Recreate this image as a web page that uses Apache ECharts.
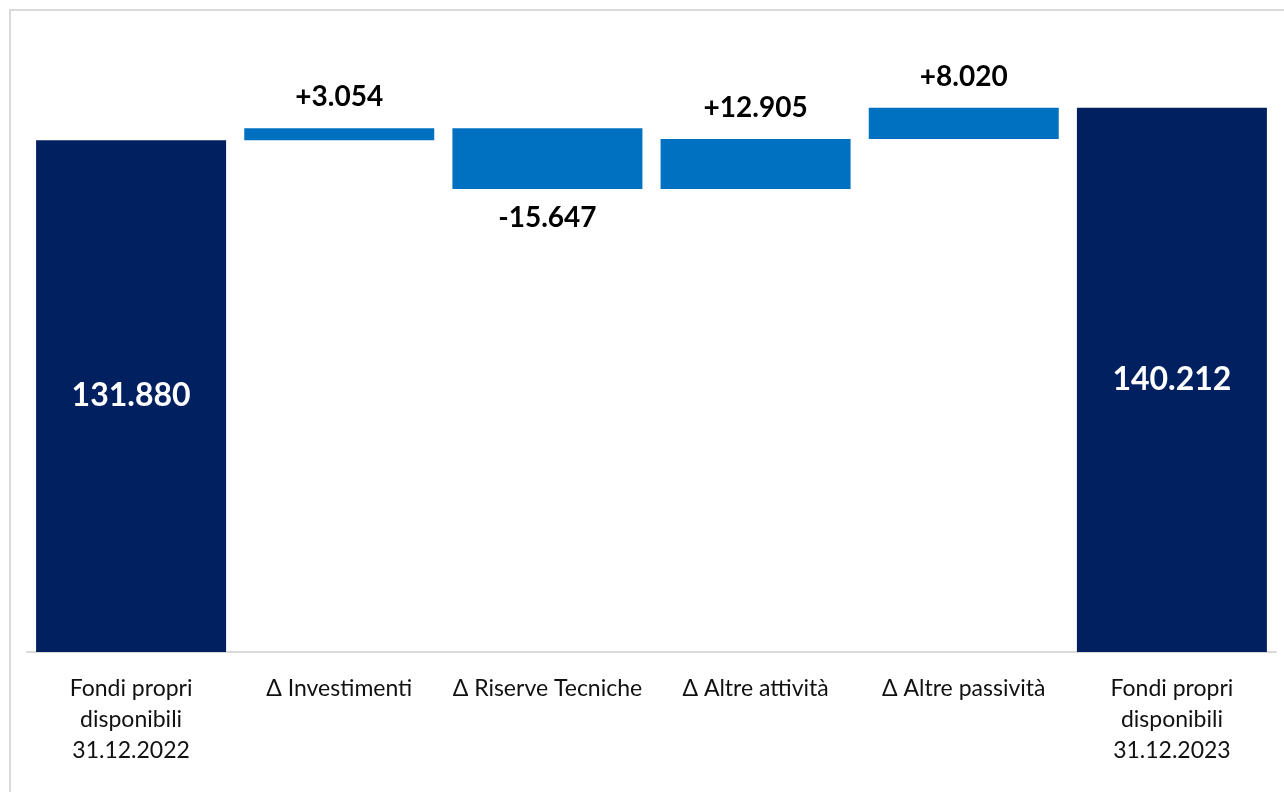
<!DOCTYPE html>
<html>
<head>
<meta charset="utf-8">
<script src="https://cdn.jsdelivr.net/npm/echarts@6/dist/echarts.min.js"></script>
<style>
    html, body { margin: 0; padding: 0; background: #fff; }
    #chart { width: 1284px; height: 792px; }
</style>
</head>
<body>
<div id="chart"></div>
<script>
// dati del grafico a cascata
const categories = [
    'Fondi propri\ndisponibili\n31.12.2022',
    'Δ Investimenti',
    'Δ Riserve Tecniche',
    'Δ Altre attività',
    'Δ Altre passività',
    'Fondi propri\ndisponibili\n31.12.2023'
];
const values = [131880, 3054, -15647, 12905, 8020, 140212];
const isTotal = [true, false, false, false, false, true];

// formato italiano: 131.880
const fmt = (v) => String(Math.abs(v)).replace(/\B(?=(\d{3})+(?!\d))/g, '.');

const baseData = [];
const totalData = [];
const upData = [];
const downData = [];
let running = 0;
values.forEach((v, i) => {
    if (isTotal[i]) {
        baseData.push(0);
        totalData.push(v);
        upData.push('-');
        downData.push('-');
        running = v;
    } else if (v >= 0) {
        baseData.push(running);
        totalData.push('-');
        upData.push(v);
        downData.push('-');
        running += v;
    } else {
        running += v;
        baseData.push(running);
        totalData.push('-');
        upData.push('-');
        downData.push(-v);
    }
});

const myChart = echarts.init(document.getElementById('chart'));
myChart.setOption({
    animation: false,
    textStyle: { fontFamily: 'Lato' },
    graphic: [{
        type: 'rect',
        shape: { x: 10, y: 10, width: 1300, height: 820 },
        style: { fill: 'none', stroke: '#d9d9d9', lineWidth: 2 },
        silent: true
    }],
    grid: { left: 27, right: 8, top: 31, bottom: 140 },
    xAxis: {
        type: 'category',
        data: categories,
        axisLine: { lineStyle: { color: '#d9d9d9', width: 2 } },
        axisTick: { show: false },
        axisLabel: {
            interval: 0,
            color: '#111',
            fontSize: 23,
            lineHeight: 31,
            margin: 21,
            fontFamily: 'Lato'
        }
    },
    yAxis: {
        type: 'value',
        min: 0,
        max: 160000,
        show: false,
        splitLine: { show: false }
    },
    series: [
        {
            name: 'base',
            type: 'bar',
            stack: 'w',
            barWidth: 190,
            itemStyle: { color: 'transparent' },
            data: baseData
        },
        {
            name: 'totale',
            type: 'bar',
            stack: 'w',
            barWidth: 190,
            itemStyle: { color: '#002060' },
            label: {
                show: true,
                position: 'inside',
                color: '#fff',
                fontWeight: 'bold',
                fontSize: 32,
                formatter: (p) => fmt(p.value)
            },
            data: totalData
        },
        {
            name: 'aumento',
            type: 'bar',
            stack: 'w',
            barWidth: 190,
            itemStyle: { color: '#0070C0' },
            label: {
                show: true,
                position: 'top',
                distance: 17,
                color: '#000',
                fontWeight: 'bold',
                fontSize: 28,
                formatter: (p) => '+' + fmt(p.value)
            },
            data: upData
        },
        {
            name: 'diminuzione',
            type: 'bar',
            stack: 'w',
            barWidth: 190,
            itemStyle: { color: '#0070C0' },
            label: {
                show: true,
                position: 'bottom',
                distance: 15,
                color: '#000',
                fontWeight: 'bold',
                fontSize: 28,
                formatter: (p) => '-' + fmt(p.value)
            },
            data: downData
        }
    ]
});
</script>
</body>
</html>
